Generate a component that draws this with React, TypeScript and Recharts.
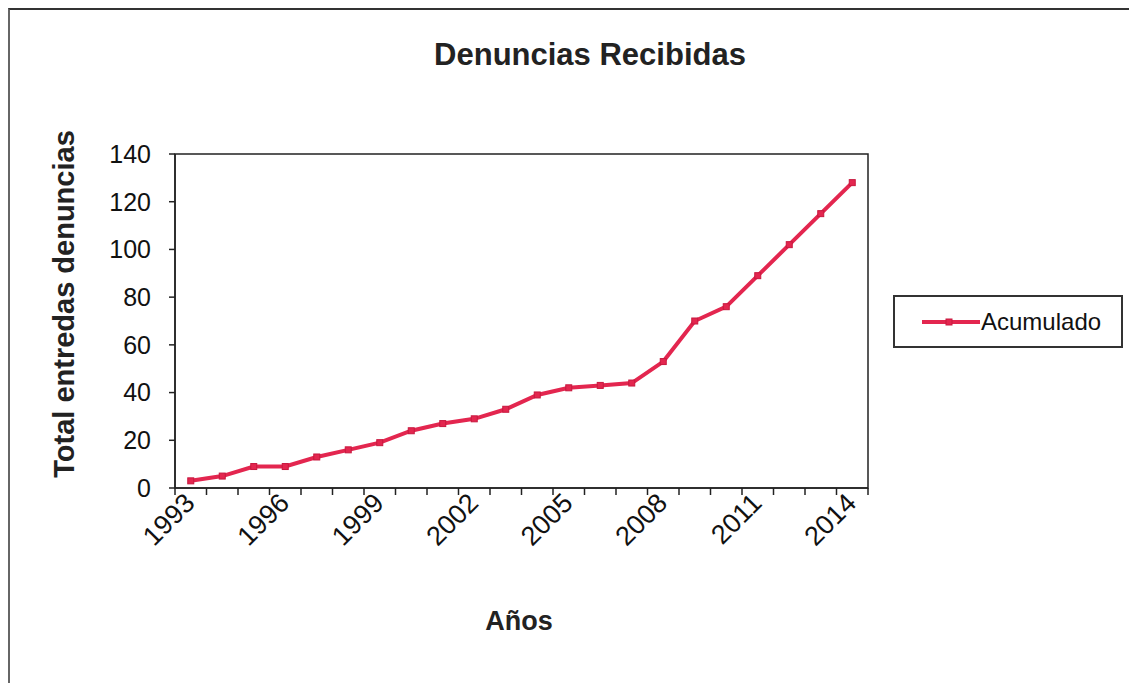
import React from 'react';
import { LineChart, Line, XAxis, YAxis, Legend, ReferenceArea } from 'recharts';

const years = [1993, 1994, 1995, 1996, 1997, 1998, 1999, 2000, 2001, 2002, 2003, 2004, 2005, 2006, 2007, 2008, 2009, 2010, 2011, 2012, 2013, 2014];
const acumulado = [3, 5, 9, 9, 13, 16, 19, 24, 27, 29, 33, 39, 42, 43, 44, 53, 70, 76, 89, 102, 115, 128];
const yTicks = [0, 20, 40, 60, 80, 100, 120, 140];
const labelYears = [1993, 1996, 1999, 2002, 2005, 2008, 2011, 2014];

const chartData = years.map((year, i) => ({ year, acumulado: acumulado[i] }));
// category boundaries, Excel puts tick marks between categories
const boundaries = [...years.map((y) => y - 0.5), years[years.length - 1] + 0.5];
const xDomain = [boundaries[0], boundaries[boundaries.length - 1]];

const FONT = '"Liberation Sans", Arial, sans-serif';
const RED = '#e3264f';
const AXIS = '#222';

const SquareDot = (props: any) => {
  const { cx, cy, index } = props;
  if (cx == null || cy == null) return null;
  return <rect key={index} x={cx - 3} y={cy - 3} width={6} height={6} fill={RED} stroke="#c8183f" strokeWidth={1} />;
};

const EmptyTick = () => <g />;

const YearTick = (props: any) => {
  const { x, y, payload } = props;
  const ax = x - 1;
  const ay = y + 9;
  return (
    <text
      x={ax}
      y={ay}
      dy="0.35em"
      textAnchor="end"
      transform={`rotate(-45 ${ax} ${ay})`}
      fontFamily={FONT}
      fontSize={27}
      fill="#111"
    >
      {payload.value}
    </text>
  );
};

const renderLegend = (props: any) => {
  const name = props.payload && props.payload[0] ? props.payload[0].value : '';
  return (
    <div
      style={{
        width: 230,
        height: 53,
        boxSizing: 'border-box',
        border: '2px solid #333',
        display: 'flex',
        alignItems: 'center',
        fontFamily: FONT,
        fontSize: 24,
        color: '#111',
      }}
    >
      <svg width={58} height={12} style={{ marginLeft: 27, flexShrink: 0 }}>
        <line x1={0} y1={6} x2={58} y2={6} stroke={RED} strokeWidth={4} />
        <rect x={24} y={3} width={6} height={6} fill={RED} stroke="#c8183f" />
      </svg>
      <span style={{ marginLeft: 1 }}>{name}</span>
    </div>
  );
};

export default function App() {
  return (
    <div
      style={{
        position: 'relative',
        width: 1127,
        height: 690,
        boxSizing: 'border-box',
        borderTop: '2px solid #333',
        borderLeft: '2px solid #666',
        borderRight: '1px solid #ccc',
        background: '#fff',
      }}
    >
      <div
        style={{
          position: 'absolute',
          left: 380,
          width: 400,
          top: 27,
          lineHeight: '36px',
          textAlign: 'center',
          fontFamily: FONT,
          fontWeight: 'bold',
          fontSize: 31,
          color: '#222',
        }}
      >
        Denuncias Recibidas
      </div>
      <div
        style={{
          position: 'absolute',
          left: -146,
          width: 400,
          top: 278,
          lineHeight: '32px',
          textAlign: 'center',
          transform: 'rotate(-90deg)',
          fontFamily: FONT,
          fontWeight: 'bold',
          fontSize: 29,
          color: '#222',
          whiteSpace: 'nowrap',
        }}
      >
        Total entredas denuncias
      </div>
      <div
        style={{
          position: 'absolute',
          left: 409,
          width: 200,
          top: 595,
          lineHeight: '32px',
          textAlign: 'center',
          fontFamily: FONT,
          fontWeight: 'bold',
          fontSize: 27,
          color: '#222',
        }}
      >
        Años
      </div>
      <div style={{ position: 'absolute', left: 0, top: 0 }}>
        {/* legend width (230) is added to the right offset by recharts */}
        <LineChart width={1123} height={678} data={chartData} margin={{ top: 144, right: 35, left: 0, bottom: 139 }}>
          <XAxis
            xAxisId="a"
            dataKey="year"
            type="number"
            domain={xDomain}
            allowDataOverflow
            ticks={boundaries}
            interval={0}
            tick={EmptyTick}
            tickSize={7}
            height={1}
            axisLine={{ stroke: AXIS, strokeWidth: 1.5 }}
            tickLine={{ stroke: AXIS, strokeWidth: 1.5 }}
          />
          <XAxis
            xAxisId="b"
            dataKey="year"
            type="number"
            domain={xDomain}
            allowDataOverflow
            ticks={labelYears}
            interval={0}
            tick={<YearTick />}
            tickSize={0}
            tickMargin={0}
            height={60}
            axisLine={false}
            tickLine={false}
          />
          <YAxis
            domain={[0, 140]}
            ticks={yTicks}
            interval={0}
            width={165}
            tickSize={6}
            tickMargin={18}
            axisLine={{ stroke: AXIS, strokeWidth: 1.5 }}
            tickLine={{ stroke: AXIS, strokeWidth: 1.5 }}
            tick={{ fontFamily: FONT, fontSize: 25, fill: '#111' }}
          />
          <ReferenceArea
            xAxisId="a"
            x1={xDomain[0]}
            x2={xDomain[1]}
            y1={0}
            y2={140}
            fill="none"
            stroke={AXIS}
            strokeWidth={1.5}
            ifOverflow="visible"
          />
          <Legend
            layout="horizontal"
            verticalAlign="middle"
            align="right"
            wrapperStyle={{ left: 883, top: 285, width: 230, height: 53 }}
            content={renderLegend}
          />
          <Line
            xAxisId="a"
            type="linear"
            dataKey="acumulado"
            name="Acumulado"
            stroke={RED}
            strokeWidth={4}
            dot={SquareDot}
            activeDot={false}
            isAnimationActive={false}
          />
        </LineChart>
      </div>
    </div>
  );
}
